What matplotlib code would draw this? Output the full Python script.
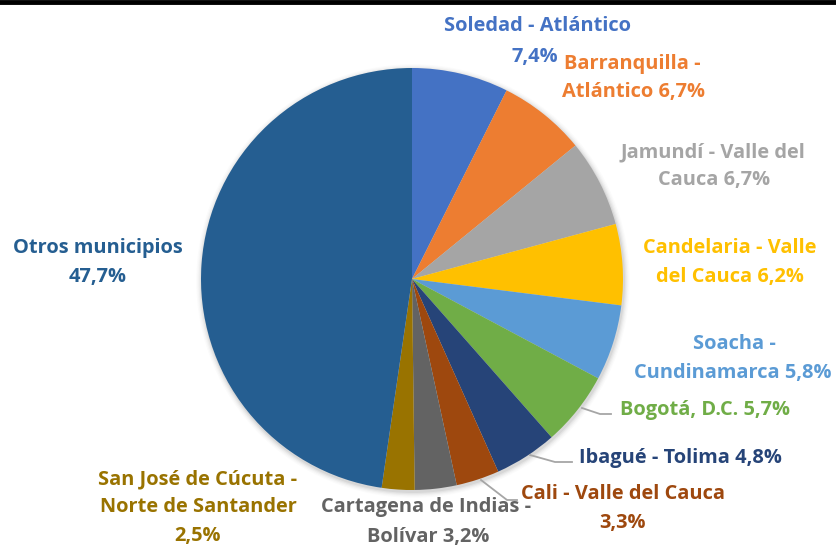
import matplotlib
matplotlib.use("Agg")
import matplotlib.pyplot as plt
from matplotlib.patches import Circle

# ---- data ----
municipios = ["Soledad - Atlántico", "Barranquilla - Atlántico", "Jamundí - Valle del Cauca",
              "Candelaria - Valle del Cauca", "Soacha - Cundinamarca", "Bogotá, D.C.",
              "Ibagué - Tolima", "Cali - Valle del Cauca", "Cartagena de Indias - Bolívar",
              "San José de Cúcuta - Norte de Santander", "Otros municipios"]
porcentajes = [7.4, 6.7, 6.7, 6.2, 5.8, 5.7, 4.8, 3.3, 3.2, 2.5, 47.7]
etiquetas = ["Soledad - Atlántico\n{}", "Barranquilla -\nAtlántico {}", "Jamundí - Valle del\nCauca {}",
             "Candelaria - Valle\ndel Cauca {}", "Soacha -\nCundinamarca {}", "Bogotá, D.C. {}",
             "Ibagué - Tolima {}", "Cali - Valle del Cauca\n{}", "Cartagena de Indias -\nBolívar {}",
             "San José de Cúcuta -\nNorte de Santander\n{}", "Otros municipios\n{}"]
colores = ["#4472C4", "#ED7D31", "#A5A5A5", "#FFC000", "#5B9BD5", "#70AD47",
           "#264478", "#9E480E", "#636363", "#997300", "#255E91"]

W, H = 836, 546
fig = plt.figure(figsize=(W / 100, H / 100), dpi=100)
ax = fig.add_axes([0, 0, 1, 1])

def py(y):
    return H - y

cx, cy, r = 412, py(279), 211

# soft shadow
for i, a in enumerate([0.05, 0.04, 0.03, 0.02, 0.015]):
    ax.add_patch(Circle((cx + 1, cy - 2), r + 1 + i * 1.2, color="#000000", alpha=a, lw=0, zorder=0))

ax.pie(porcentajes, colors=colores, startangle=90, counterclock=False,
       center=(cx, cy), radius=r, frame=True,
       wedgeprops=dict(linewidth=0, zorder=2))
ax.set_xlim(0, W)
ax.set_ylim(0, H)
ax.set_aspect("equal")
ax.axis("off")

# per-line label positions (pixel x center, y centers of each line)
pos = [
    ([538, 535], [24, 55]),
    ([632, 633], [62, 90]),
    ([713, 714], [150, 178]),
    ([730, 730], [246, 275]),
    ([734, 733], [342, 371]),
    ([705], [408]),
    ([680], [456]),
    ([623, 623], [492, 521]),
    ([426, 428], [505, 535]),
    ([198, 198, 198], [477, 505, 534]),
    ([98, 98], [246, 275]),
]

for lab, v, col, (xs, ys) in zip(etiquetas, porcentajes, colores, pos):
    txt = lab.format(f"{v:.1f}%".replace(".", ","))
    for line, x, y in zip(txt.split("\n"), xs, ys):
        ax.text(x, py(y + 2), line, color=col, ha="center", va="center", fontsize=14.4,
                fontweight="bold", family=["Open Sans", "DejaVu Sans"], zorder=5)

# leader lines
leaders = [
    [(582, 408), (600, 414), (611, 414)],
    [(530, 455), (555, 462), (572, 462)],
    [(481, 480), (507, 500), (517, 500)],
]
for pts in leaders:
    ax.plot([p[0] for p in pts], [py(p[1]) for p in pts], color="#A6A6A6", lw=1.3, zorder=3)

# top border
fig.add_artist(plt.Line2D([0, 1], [1 - 1.5 / H, 1 - 1.5 / H], color="black", lw=3.5,
                          transform=fig.transFigure))

fig.savefig("out.png", dpi=100, facecolor="white")
